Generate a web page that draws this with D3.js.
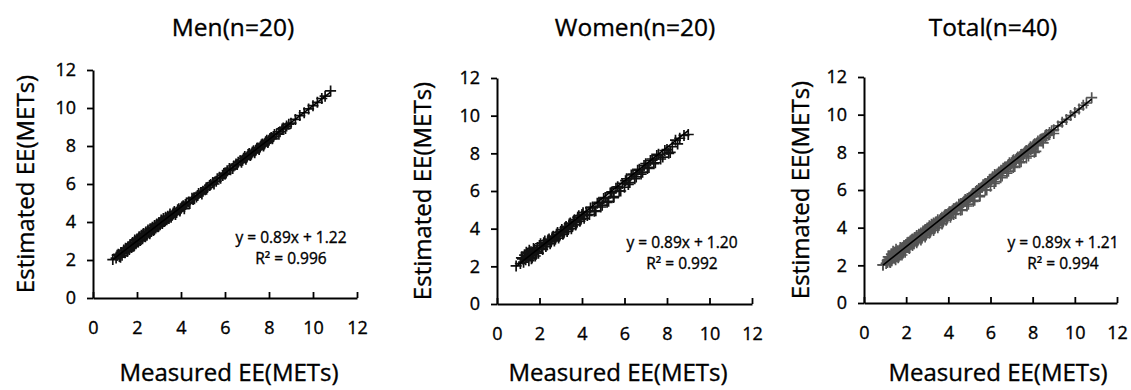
<!DOCTYPE html>
<html>
<head>
<meta charset="utf-8">
<script src="https://cdn.jsdelivr.net/npm/d3@7"></script>
<style>
  body { margin: 0; background: #fff; }
  text { font-family: "Open Sans", "Noto Sans", sans-serif; fill: #000; stroke: #000; stroke-width: 0.35px; }
</style>
</head>
<body>
<svg id="svg" width="1131" height="390"></svg>
<script>
// values
const titles = ["Men(n=20)", "Women(n=20)", "Total(n=40)"];
const slopes = [0.89, 0.89, 0.89];
const intercepts = [1.22, 1.20, 1.21];
const rSquared = ["0.996", "0.992", "0.994"];
const axisTicks = [0, 2, 4, 6, 8, 10, 12];

const menMeasured = [0.90, 1.05, 1.15, 1.20, 1.28, 1.32, 1.40, 1.45, 1.50, 1.55, 1.60, 1.65, 1.70, 1.75, 1.80, 1.85,
  1.90, 1.95, 2.00, 2.05, 2.10, 2.15, 2.20, 2.25, 2.30, 2.35, 2.40, 2.45, 2.50, 2.55, 2.60, 2.65, 2.70, 2.75,
  2.80, 2.85, 2.90, 2.95, 3.00, 3.05, 3.10, 3.15, 3.20, 3.25, 3.30, 3.35, 3.40, 3.45, 3.50, 3.60, 3.70, 3.80,
  3.90, 4.00, 4.10, 4.20, 4.35, 4.50, 4.60, 4.75, 4.90, 5.00, 5.15, 5.30, 5.45, 5.60, 5.75, 5.90, 6.00, 6.10,
  6.25, 6.40, 6.55, 6.70, 6.80, 6.90, 7.00, 7.10, 7.20, 7.30, 7.40, 7.50, 7.60, 7.70, 7.80, 7.90, 8.00, 8.10,
  8.20, 8.35, 8.50, 8.65, 8.80, 9.00, 9.20, 9.40, 9.60, 9.80, 10.00, 10.20, 10.40, 10.55, 10.80,
  3.55, 3.65, 3.75, 3.85, 3.95, 4.05, 4.15, 4.25, 4.40, 4.55, 4.70, 4.80, 4.95, 5.10, 5.20, 5.35, 5.50, 5.65,
  5.80, 5.95, 6.05, 6.20, 6.35, 6.50, 6.60, 6.75, 6.85, 6.95, 7.05, 7.15, 7.25, 7.35, 7.45, 7.55, 7.65, 7.75,
  7.85, 7.95, 8.05, 8.15, 8.25, 8.45, 8.60, 8.75, 8.90,
  1.10, 1.25, 1.38, 1.48, 1.58, 1.68, 1.78, 1.88, 1.98, 2.08, 2.18, 2.28, 2.38, 2.48, 2.58, 2.68, 2.78, 2.88,
  2.98, 3.08, 3.18, 3.28, 3.38, 3.48];
const menEstimated = [2.02, 2.10, 2.30, 2.18, 2.40, 2.25, 2.52, 2.38, 2.60, 2.45, 2.70, 2.55, 2.80, 2.66, 2.92, 2.72,
  3.05, 2.85, 3.10, 2.95, 3.22, 3.02, 3.30, 3.12, 3.40, 3.25, 3.48, 3.30, 3.58, 3.42, 3.65, 3.50, 3.72, 3.55,
  3.82, 3.68, 3.90, 3.75, 3.98, 3.85, 4.10, 3.92, 4.18, 4.02, 4.25, 4.12, 4.30, 4.18, 4.42, 4.35, 4.55, 4.50,
  4.70, 4.72, 4.85, 4.92, 5.05, 5.25, 5.28, 5.40, 5.55, 5.62, 5.80, 5.92, 6.08, 6.15, 6.35, 6.45, 6.52, 6.70,
  6.75, 6.95, 7.02, 7.22, 7.25, 7.45, 7.42, 7.60, 7.58, 7.75, 7.78, 7.90, 7.95, 8.10, 8.12, 8.30, 8.30, 8.45,
  8.50, 8.65, 8.75, 8.95, 9.05, 9.20, 9.40, 9.60, 9.75, 9.95, 10.12, 10.30, 10.50, 10.62, 10.90,
  4.25, 4.48, 4.40, 4.65, 4.58, 4.80, 4.70, 5.00, 4.98, 5.18, 5.32, 5.50, 5.48, 5.70, 5.82, 5.98, 6.00, 6.28,
  6.30, 6.55, 6.58, 6.82, 6.82, 7.05, 7.15, 7.15, 7.35, 7.30, 7.55, 7.50, 7.68, 7.65, 7.88, 7.82, 8.05, 8.00,
  8.22, 8.18, 8.40, 8.38, 8.60, 8.62, 8.90, 8.92, 9.15,
  2.25, 2.15, 2.40, 2.62, 2.48, 2.72, 2.85, 2.78, 3.02, 3.15, 3.08, 3.35, 3.22, 3.50, 3.38, 3.62, 3.60, 3.80,
  3.78, 3.95, 4.05, 4.08, 4.22, 4.28];

const womenMeasured = [0.90, 1.10, 1.20, 1.25, 1.30, 1.35, 1.40, 1.45, 1.50, 1.55, 1.60, 1.65, 1.70, 1.75, 1.80, 1.85,
  1.90, 1.95, 2.00, 2.10, 2.20, 2.30, 2.40, 2.50, 2.60, 2.70, 2.80, 2.90, 3.00, 3.10, 3.20, 3.30, 3.40, 3.50,
  3.60, 3.70, 3.80, 3.90, 4.00, 4.10, 4.20, 4.35, 4.50, 4.65, 4.80, 4.95, 5.10, 5.25, 5.40, 5.50, 5.60, 5.75,
  5.90, 6.00, 6.10, 6.25, 6.40, 6.55, 6.70, 6.85, 7.00, 7.15, 7.30, 7.45, 7.60, 7.80, 8.00, 8.15, 8.40, 8.60,
  8.80, 9.00,
  1.15, 1.38, 1.52, 1.62, 1.72, 1.82, 2.05, 2.15, 2.25, 2.35, 2.45, 2.55, 2.65, 2.75, 2.85, 2.95, 3.05, 3.15,
  3.25, 3.35, 3.45, 3.55, 3.65, 3.75, 3.85, 3.95, 4.05, 4.25, 4.40, 4.58, 4.72, 4.88, 5.02, 5.18, 5.33, 5.48,
  5.68, 5.82, 6.05, 6.18, 6.32, 6.48, 6.62, 6.78, 6.92, 7.08, 7.22, 7.38, 7.52, 7.70, 7.90, 8.08, 8.25, 8.50];
const womenEstimated = [2.02, 2.15, 2.40, 2.22, 2.60, 2.35, 2.50, 2.70, 2.30, 2.58, 2.78, 2.45, 2.65, 2.90, 2.55, 2.80,
  3.00, 2.70, 3.10, 2.95, 3.25, 3.05, 3.40, 3.20, 3.55, 3.35, 3.70, 3.50, 3.85, 3.70, 4.05, 3.85, 4.25, 4.00,
  4.40, 4.20, 4.60, 4.40, 4.75, 4.55, 4.90, 4.75, 5.15, 4.95, 5.40, 5.25, 5.65, 5.45, 5.95, 5.70, 6.15, 6.00,
  6.40, 6.20, 6.65, 6.45, 6.90, 6.75, 7.15, 7.00, 7.45, 7.25, 7.70, 7.50, 7.95, 7.80, 8.20, 8.05, 8.70, 8.80,
  8.95, 9.00,
  2.45, 2.75, 2.85, 2.40, 2.95, 2.70, 3.20, 2.90, 3.35, 3.15, 3.45, 3.30, 3.60, 3.45, 3.80, 3.62, 3.95, 3.78,
  4.12, 3.95, 4.30, 4.12, 4.48, 4.32, 4.68, 4.50, 4.85, 4.70, 5.10, 4.92, 5.35, 5.15, 5.60, 5.40, 5.90, 5.65,
  6.22, 6.00, 6.55, 6.35, 6.85, 6.65, 7.10, 6.90, 7.35, 7.20, 7.62, 7.45, 7.88, 7.70, 8.15, 8.00, 8.35, 8.50];

const men = menMeasured.map((m, i) => ({ x: m, y: menEstimated[i] }));
const women = womenMeasured.map((m, i) => ({ x: m, y: womenEstimated[i] }));
const datasets = [men, women, men.concat(women)];

// layout of the three plots (pixels)
const panels = [
  { left: 93, right: 357, top: 70, bottom: 298, titleX: 233, yLabelX: 34, xLabelX: 229, eqX: 291, eqY: 243, color: "#111" },
  { left: 497, right: 752, top: 78, bottom: 304, titleX: 635, yLabelX: 431, xLabelX: 618, eqX: 682, eqY: 248, color: "#111" },
  { left: 864, right: 1117, top: 77, bottom: 303, titleX: 993, yLabelX: 809, xLabelX: 998, eqX: 1063, eqY: 248, color: "#555" }
];

const svg = d3.select("#svg");

panels.forEach((p, k) => {
  const x = d3.scaleLinear().domain([0, 12]).range([p.left, p.right]);
  const y = d3.scaleLinear().domain([0, 12]).range([p.bottom, p.top]);
  const g = svg.append("g");

  g.append("text").attr("x", p.titleX).attr("y", 36).attr("text-anchor", "middle")
    .style("font-size", "24.5px").text(titles[k]);

  // points as "+" markers
  g.append("g").selectAll("path").data(datasets[k]).enter().append("path")
    .attr("d", "M-5.5,0H5.5M0,-5.5V5.5")
    .attr("transform", d => "translate(" + x(d.x) + "," + y(d.y) + ")")
    .attr("stroke", p.color).attr("stroke-width", 1.7).attr("fill", "none");

  // trend line
  const ext = d3.extent(datasets[k], d => d.x);
  g.append("line")
    .attr("x1", x(ext[0])).attr("y1", y(slopes[k] * ext[0] + intercepts[k]))
    .attr("x2", x(ext[1])).attr("y2", y(slopes[k] * ext[1] + intercepts[k]))
    .attr("stroke", "#000").attr("stroke-width", 1.6);

  const yAxis = g.append("g").attr("transform", "translate(" + p.left + ",0)")
    .call(d3.axisLeft(y).tickValues(axisTicks).tickSizeInner(6).tickSizeOuter(0).tickPadding(11));
  const xAxis = g.append("g").attr("transform", "translate(0," + p.bottom + ")")
    .call(d3.axisBottom(x).tickValues(axisTicks).tickSizeInner(-6).tickSizeOuter(0).tickPadding(23));

  [yAxis, xAxis].forEach(a => {
    a.select(".domain").attr("stroke", "#000").attr("stroke-width", 2);
    a.selectAll(".tick line").attr("stroke", "#000").attr("stroke-width", 1.8);
    a.selectAll(".tick text").style("font-size", "18px").attr("fill", "#000")
      .style("font-family", "'Open Sans', sans-serif");
  });

  g.append("text").attr("x", p.xLabelX).attr("y", 381).attr("text-anchor", "middle")
    .style("font-size", "24px").text("Measured EE(METs)");

  g.append("text").attr("transform", "translate(" + p.yLabelX + "," + ((p.top + p.bottom) / 2) + ") rotate(-90)")
    .attr("text-anchor", "middle").style("font-size", "24px").text("Estimated EE(METs)");

  g.append("text").attr("x", p.eqX).attr("y", p.eqY).attr("text-anchor", "middle")
    .style("font-size", "15.5px").text("y = " + slopes[k].toFixed(2) + "x + " + intercepts[k].toFixed(2));
  g.append("text").attr("x", p.eqX).attr("y", p.eqY + 21).attr("text-anchor", "middle")
    .style("font-size", "15.5px").text("R² = " + rSquared[k]);
});
</script>
</body>
</html>
